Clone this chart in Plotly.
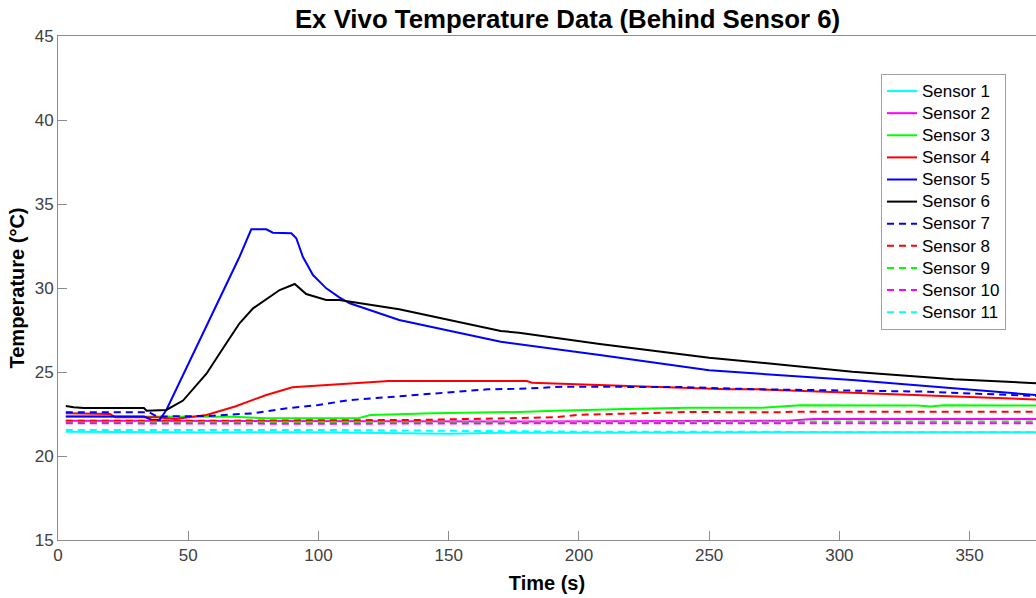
import plotly.graph_objects as go

# ---- data ----
t_s1 = [3, 30, 60, 100, 130, 150, 170, 200, 250, 300, 375.5]
y_s1 = [21.45, 21.42, 21.4, 21.42, 21.38, 21.33, 21.38, 21.4, 21.4, 21.42, 21.42]

t_s2 = [3, 100, 180, 280, 290, 375.5]
y_s2 = [22.1, 22.05, 22.05, 22.1, 22.2, 22.2]

t_s3 = [3, 40, 67, 80, 115, 120, 144, 177, 191, 218, 242, 270, 285, 330, 335, 340, 375.5]
y_s3 = [22.35, 22.35, 22.34, 22.24, 22.24, 22.44, 22.54, 22.62, 22.7, 22.8, 22.87, 22.87, 23.02, 23.0, 22.95, 23.02, 23.0]

t_s4 = [3, 20, 22, 38, 45, 57, 68, 80, 90, 105, 118, 127, 180, 182, 199, 221, 239, 257, 269, 295, 313, 333, 359, 375.5]
y_s4 = [22.55, 22.5, 22.3, 22.3, 22.2, 22.44, 22.95, 23.63, 24.09, 24.23, 24.36, 24.46, 24.46, 24.36, 24.27, 24.17, 24.09, 23.97, 23.97, 23.83, 23.73, 23.63, 23.47, 23.37]

t_s5 = [3, 33, 36, 39, 41.6, 69.7, 74.2, 80, 82.5, 89.6, 91.5, 94, 97.9, 103, 108, 112, 131, 170, 208, 250, 305, 350, 375.5]
y_s5 = [22.35, 22.35, 22.15, 22.15, 22.74, 31.86, 33.49, 33.49, 33.29, 33.26, 32.96, 31.86, 30.77, 29.98, 29.44, 29.09, 28.1, 26.8, 26.01, 25.1, 24.52, 23.97, 23.63]

t_s6 = [3, 6, 10, 33, 34, 40, 41.6, 48, 57, 63.3, 69.7, 74.9, 85.1, 90.9, 95.3, 103, 108, 131, 170, 177, 208, 250, 305, 344, 375.5]
y_s6 = [22.98, 22.9, 22.85, 22.85, 22.7, 22.7, 22.74, 23.3, 24.9, 26.4, 27.9, 28.79, 29.88, 30.24, 29.64, 29.29, 29.29, 28.73, 27.44, 27.34, 26.67, 25.85, 25.02, 24.57, 24.33]

t_s7 = [3, 35, 38, 57, 75, 88, 100, 112, 129, 144, 165, 177, 195, 240, 269, 333, 359, 375.5]
y_s7 = [22.6, 22.6, 22.35, 22.38, 22.54, 22.84, 23.04, 23.33, 23.53, 23.73, 23.97, 24.0, 24.13, 24.1, 23.97, 23.83, 23.69, 23.57]

t_s8 = [3, 60, 140, 177, 190, 200, 218, 242, 275, 285, 375.5]
y_s8 = [22.1, 22.1, 22.15, 22.25, 22.3, 22.45, 22.52, 22.62, 22.6, 22.64, 22.64]

t_s9 = [3, 100, 200, 300, 375.5]
y_s9 = [22.0, 22.0, 22.02, 22.05, 22.05]

t_s10 = [3, 100, 200, 300, 375.5]
y_s10 = [21.95, 21.92, 21.95, 21.95, 21.95]

t_s11 = [3, 50, 100, 150, 200, 260, 300, 375.5]
y_s11 = [21.55, 21.55, 21.55, 21.5, 21.45, 21.45, 21.42, 21.42]

names = ["Sensor 1", "Sensor 2", "Sensor 3", "Sensor 4", "Sensor 5", "Sensor 6",
         "Sensor 7", "Sensor 8", "Sensor 9", "Sensor 10", "Sensor 11"]
times = [t_s1, t_s2, t_s3, t_s4, t_s5, t_s6, t_s7, t_s8, t_s9, t_s10, t_s11]
temps = [y_s1, y_s2, y_s3, y_s4, y_s5, y_s6, y_s7, y_s8, y_s9, y_s10, y_s11]
colors = ["#00ffff", "#ff00ff", "#00ff00", "#ff0000", "#0000ff", "#000000",
          "#0000ff", "#ff0000", "#00ff00", "#ff00ff", "#00ffff"]
dashes = ["solid"] * 6 + ["7px,5px"] * 5

x_ticks = [0, 50, 100, 150, 200, 250, 300, 350]
y_ticks = [15, 20, 25, 30, 35, 40, 45]

FONT = "Liberation Sans, Arial, Helvetica, sans-serif"

fig = go.Figure()
for n, t, y, c, d in zip(names, times, temps, colors, dashes):
    fig.add_trace(go.Scatter(x=t, y=y, mode="lines",
                             name='<span style="font-size:17px">' + n + '</span>',
                             line=dict(color=c, width=2, dash=d)))

fig.update_layout(
    width=1036, height=598,
    margin=dict(l=58, r=0, t=36, b=58, autoexpand=False),
    paper_bgcolor="white", plot_bgcolor="white",
    font=dict(family=FONT, color="#262626"),
    title=dict(text="<b>Ex Vivo Temperature Data (Behind Sensor 6)</b>",
               font=dict(size=25.8, color="#000000", family=FONT),
               x=0.521, xref="paper", xanchor="center",
               y=1 - 19 / 598, yref="container", yanchor="middle"),
    showlegend=True,
    legend=dict(x=(881 - 58) / 978, y=(540 - 74) / 504, xanchor="left", yanchor="top",
                bgcolor="white", bordercolor="#a0a0a0", borderwidth=1,
                font=dict(size=14.7, color="#000000", family=FONT),
                tracegroupgap=0),
)
fig.update_xaxes(range=[0, 375.5], tickvals=x_ticks, ticks="inside", ticklen=9,
                 tickcolor="#8c8c8c", showline=True, linecolor="#8c8c8c", linewidth=1,
                 mirror=True, showgrid=False, zeroline=False, automargin=False,
                 tickfont=dict(size=17, color="#404040"),
                 title=dict(text="<b>Time (s)</b>", font=dict(size=20, color="#000000"), standoff=11))
fig.update_yaxes(range=[15, 45], tickvals=y_ticks, ticks="inside", ticklen=9,
                 tickcolor="#8c8c8c", showline=True, linecolor="#8c8c8c", linewidth=1,
                 mirror=True, showgrid=False, zeroline=False, automargin=False,
                 tickfont=dict(size=17, color="#404040"),
                 title=dict(text="<b>Temperature (°C)</b>", font=dict(size=20, color="#000000"), standoff=4))

fig.write_html("out.html", config={"displayModeBar": False},
               post_script="document.body.style.margin='0';document.body.style.overflow='hidden';")
